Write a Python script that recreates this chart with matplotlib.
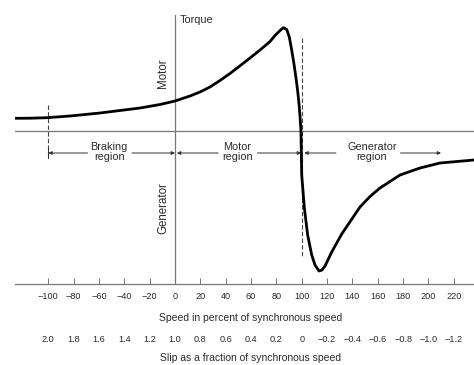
import numpy as np
import matplotlib.pyplot as plt
import matplotlib.transforms as mtransforms

plt.rcParams['font.family'] = ['Liberation Sans', 'DejaVu Sans']

# torque-speed curve (torque normalised so peak ~ 1)
speed = [-126.3, -114.4, -101.0, -82.9, -59.2, -43.4, -27.6, -11.8, 0.0,
         11.8, 19.7, 27.6, 35.5, 43.4, 51.3, 59.2, 67.1, 75.0, 78.9, 82.9,
         85.5, 88.2, 90.2, 92.1, 93.9, 95.5, 96.8, 97.9, 98.7, 99.4, 100.0,
         102.1, 104.7, 107.9, 110.5, 113.7, 116.0, 118.4, 123.7, 131.6,
         146.0, 153.9, 161.8, 177.6, 193.4, 209.2, 236.0]
torque = [0.127, 0.128, 0.133, 0.15, 0.18, 0.205, 0.23, 0.265, 0.30,
          0.35, 0.39, 0.44, 0.505, 0.575, 0.652, 0.73, 0.81, 0.895, 0.955, 1.005,
          1.033, 1.015, 0.94, 0.81, 0.67, 0.53, 0.40, 0.27, 0.14, 0.0, -0.44,
          -0.77, -1.04, -1.24, -1.34, -1.40, -1.39, -1.35, -1.21, -1.03,
          -0.76, -0.655, -0.57, -0.44, -0.37, -0.32, -0.29]

speed_ticks = [-100, -80, -60, -40, -20, 0, 20, 40, 60, 80, 100, 120, 140,
               160, 180, 200, 220]
slip_labels = ["2.0", "1.8", "1.6", "1.4", "1.2", "1.0", "0.8", "0.6", "0.4",
               "0.2", "0", "\u22120.2", "\u22120.4", "\u22120.6", "\u22120.8",
               "\u22121.0", "\u22121.2"]

fig = plt.figure(figsize=(4.74, 3.65), dpi=100)
ax = fig.add_axes([15 / 474, 81 / 365, 459 / 474, 284 / 365])
ax.set_xlim(-126.3, 236.0)
ax.set_ylim(-1.53, 1.31)

gray = "#777777"
txt = "#2a2a2a"
# zero torque line and torque axis
ax.axhline(0, color=gray, lw=0.9)
ax.plot([0, 0], [-1.53, 1.16], color=gray, lw=0.9)

# dashed boundaries
ax.plot([-100, -100], [0.26, -0.26], color="#444444", lw=0.8, ls=(0, (4, 2)))
ax.plot([100, 100], [0.93, -1.27], color="#444444", lw=0.8, ls=(0, (4, 2)))

ax.plot(speed, torque, color="black", lw=2.0, solid_joinstyle="round",
        solid_capstyle="round")

# region arrows
ya = -0.22
kw = dict(arrowprops=dict(arrowstyle="-|>", color="#333333", lw=0.7,
                          mutation_scale=5, shrinkA=0, shrinkB=0))
ax.annotate("", xy=(-100, ya), xytext=(-69, ya), **kw)
ax.annotate("", xy=(0, ya), xytext=(-34, ya), **kw)
ax.annotate("", xy=(1.5, ya), xytext=(34, ya), **kw)
ax.annotate("", xy=(99.5, ya), xytext=(65, ya), **kw)
ax.annotate("", xy=(102, ya), xytext=(127, ya), **kw)
ax.annotate("", xy=(210, ya), xytext=(178, ya), **kw)
ax.plot([-100, -100], [ya - 0.05, ya + 0.05], color="#333333", lw=0.7)

tk = dict(fontsize=7.8, ha="center", va="center", color=txt,
          linespacing=1.05)
ax.text(-52, ya + 0.01, "Braking\nregion", **tk)
ax.text(49, ya + 0.01, "Motor\nregion", **tk)
ax.text(155.5, ya + 0.01, "Generator\nregion", **tk)

ax.text(4, 1.11, "Torque", fontsize=7.8, ha="left", va="center", color=txt)
ax.text(-9.5, 0.58, "Motor", fontsize=8.3, rotation=90, ha="center",
        va="center", color=txt)
ax.text(-9.5, -0.77, "Generator", fontsize=8.3, rotation=90, ha="center",
        va="center", color=txt)

for s in ["top", "left", "right"]:
    ax.spines[s].set_visible(False)
ax.spines["bottom"].set_color(gray)
ax.spines["bottom"].set_linewidth(0.9)
ax.set_yticks([])
ax.set_xticks(speed_ticks)
ax.set_xticklabels([f"{t}".replace("-", "\u2212") for t in speed_ticks])
ax.tick_params(axis="x", direction="in", length=4, width=0.7, color=gray,
               labelsize=6.6, labelcolor=txt, pad=6)

trans = mtransforms.blended_transform_factory(ax.transData, ax.transAxes)
for t, lab in zip(speed_ticks, slip_labels):
    ax.text(t, -0.197, lab, transform=trans, fontsize=6.6, ha="center",
            va="center", color=txt)
ax.text(0.514, -0.118, "Speed in percent of synchronous speed",
        transform=ax.transAxes, fontsize=7.5, ha="center", va="center", color=txt)
ax.text(0.514, -0.262, "Slip as a fraction of synchronous speed",
        transform=ax.transAxes, fontsize=7.5, ha="center", va="center", color=txt)

fig.savefig("out.png", dpi=100)
